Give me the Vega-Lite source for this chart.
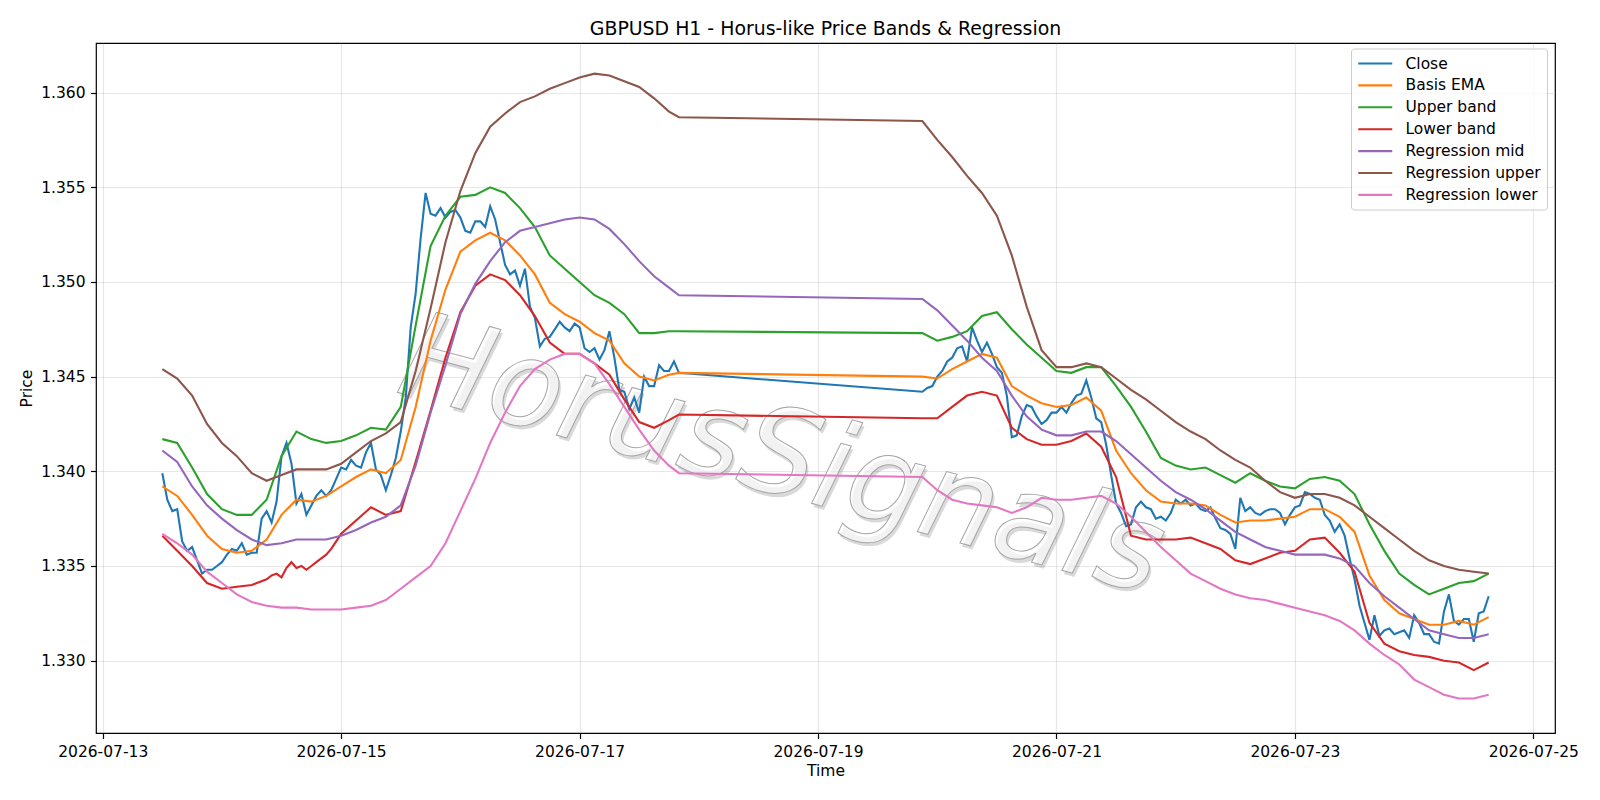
{
  "$schema": "https://vega.github.io/schema/vega-lite/v6.json",
  "width": 1459,
  "height": 690,
  "autosize": {"type": "none"},
  "padding": {"left": 96, "top": 43, "right": 45, "bottom": 67},
  "background": "white",
  "title": {
    "text": "GBPUSD H1 - Horus-like Price Bands & Regression",
    "fontSize": 18.9,
    "fontWeight": "normal",
    "color": "#000000",
    "anchor": "middle",
    "baseline": "alphabetic",
    "offset": -10.5
  },
  "config": {
    "font": "DejaVu Sans",
    "view": {"stroke": "#000000", "strokeWidth": 1.2},
    "axis": {
      "domain": false,
      "grid": true,
      "gridColor": "#b0b0b0",
      "gridOpacity": 0.3,
      "gridWidth": 1.2,
      "tickColor": "#000000",
      "tickWidth": 1.2,
      "tickSize": 5.5,
      "labelPadding": 5.5,
      "labelFontSize": 15.5,
      "labelColor": "#000000",
      "labelFont": "DejaVu Sans",
      "titleFont": "DejaVu Sans",
      "titleFontSize": 15.5,
      "titleFontWeight": "normal",
      "titleColor": "#000000"
    }
  },
  "encoding": {
    "x": {
      "field": "t",
      "type": "temporal",
      "scale": {
        "domain": [
          {"year": 2026, "month": 7, "date": 12, "hours": 22, "minutes": 39},
          {"year": 2026, "month": 7, "date": 25, "hours": 4, "minutes": 21}
        ]
      },
      "axis": {
        "title": "Time",
        "titlePadding": 4,
        "format": "%Y-%m-%d",
        "labelFlush": false,
        "labelOverlap": false,
        "values": [
          {"year": 2026, "month": 7, "date": 13},
          {"year": 2026, "month": 7, "date": 15},
          {"year": 2026, "month": 7, "date": 17},
          {"year": 2026, "month": 7, "date": 19},
          {"year": 2026, "month": 7, "date": 21},
          {"year": 2026, "month": 7, "date": 23},
          {"year": 2026, "month": 7, "date": 25}
        ]
      }
    },
    "y": {
      "field": "v",
      "type": "quantitative",
      "scale": {"domain": [1.32618, 1.36262], "zero": false, "nice": false},
      "axis": {
        "title": "Price",
        "titlePadding": 6,
        "format": ".3f",
        "labelFlush": false,
        "values": [1.330, 1.335, 1.340, 1.345, 1.350, 1.355, 1.360]
      }
    }
  },
  "layer": [
    {
      "data": {"values": [{"t": "2026-07-18T16:40", "v": 1.3407, "w": "HorusSignals"}]},
      "mark": {
        "type": "text",
        "font": "DejaVu Sans",
        "fontStyle": "italic",
        "fontSize": 120,
        "angle": 15,
        "align": "center",
        "baseline": "middle",
        "fill": "#000000",
        "fillOpacity": 0.15,
        "dx": 3,
        "dy": 3
      },
      "encoding": {"text": {"field": "w"}}
    },
    {
      "data": {"values": [{"t": "2026-07-18T16:40", "v": 1.3407, "w": "HorusSignals"}]},
      "mark": {
        "type": "text",
        "font": "DejaVu Sans",
        "fontStyle": "italic",
        "fontSize": 120,
        "angle": 15,
        "align": "center",
        "baseline": "middle",
        "fill": "#ffffff",
        "fillOpacity": 0.65,
        "stroke": "#a6a6a6",
        "strokeWidth": 1
      },
      "encoding": {"text": {"field": "w"}}
    },
    {
      "data": {
        "values": [
          {"t": "2026-07-13T12:00", "c": 1.3399, "e": 1.3392, "u": 1.3417, "l": 1.3366, "m": 1.3411, "ru": 1.3454, "rl": 1.3367},
          {"t": "2026-07-13T13:00", "c": 1.3385},
          {"t": "2026-07-13T14:00", "c": 1.3379},
          {"t": "2026-07-13T15:00", "c": 1.3380, "e": 1.3387, "u": 1.3415, "l": 1.3358, "m": 1.3405, "ru": 1.3449, "rl": 1.3362},
          {"t": "2026-07-13T16:00", "c": 1.3363},
          {"t": "2026-07-13T17:00", "c": 1.3358},
          {"t": "2026-07-13T18:00", "c": 1.3360, "e": 1.3377, "u": 1.3402, "l": 1.3350, "m": 1.3392, "ru": 1.3440, "rl": 1.3356},
          {"t": "2026-07-13T19:00", "c": 1.3353},
          {"t": "2026-07-13T20:00", "c": 1.3346},
          {"t": "2026-07-13T21:00", "c": 1.3348, "e": 1.3366, "u": 1.3388, "l": 1.3341, "m": 1.3382, "ru": 1.3425, "rl": 1.3347},
          {"t": "2026-07-13T22:00", "c": 1.3348},
          {"t": "2026-07-13T23:00", "c": 1.3350},
          {"t": "2026-07-14T00:00", "c": 1.3352, "e": 1.3359, "u": 1.3380, "l": 1.3338, "m": 1.3375, "ru": 1.3415, "rl": 1.3341},
          {"t": "2026-07-14T01:00", "c": 1.3356},
          {"t": "2026-07-14T02:00", "c": 1.3359},
          {"t": "2026-07-14T03:00", "c": 1.3358, "e": 1.3357, "u": 1.3377, "l": 1.3339, "m": 1.3369, "ru": 1.3408, "rl": 1.3335},
          {"t": "2026-07-14T04:00", "c": 1.3362},
          {"t": "2026-07-14T05:00", "c": 1.3356},
          {"t": "2026-07-14T06:00", "c": 1.3357, "e": 1.3358, "u": 1.3377, "l": 1.3340, "m": 1.3364, "ru": 1.3399, "rl": 1.3331},
          {"t": "2026-07-14T07:00", "c": 1.3357},
          {"t": "2026-07-14T08:00", "c": 1.3375},
          {"t": "2026-07-14T09:00", "c": 1.3379, "e": 1.3364, "u": 1.3385, "l": 1.3343, "m": 1.3361, "ru": 1.3395, "rl": 1.3329},
          {"t": "2026-07-14T10:00", "c": 1.3373, "l": 1.3345},
          {"t": "2026-07-14T11:00", "c": 1.3384, "l": 1.3346},
          {"t": "2026-07-14T12:00", "c": 1.3408, "e": 1.3377, "u": 1.3408, "l": 1.3344, "m": 1.3362, "ru": 1.3398, "rl": 1.3328},
          {"t": "2026-07-14T13:00", "c": 1.3415, "l": 1.3349},
          {"t": "2026-07-14T14:00", "c": 1.3404, "l": 1.3352},
          {"t": "2026-07-14T15:00", "c": 1.3383, "e": 1.3385, "u": 1.3421, "l": 1.3349, "m": 1.3364, "ru": 1.3401, "rl": 1.3328},
          {"t": "2026-07-14T16:00", "c": 1.3388, "l": 1.3350},
          {"t": "2026-07-14T17:00", "c": 1.3377, "l": 1.3348},
          {"t": "2026-07-14T18:00", "c": 1.3382, "e": 1.3384, "u": 1.3417, "l": 1.3350, "m": 1.3364, "ru": 1.3401, "rl": 1.3327},
          {"t": "2026-07-14T19:00", "c": 1.3387, "l": 1.3352},
          {"t": "2026-07-14T20:00", "c": 1.3390, "l": 1.3354},
          {"t": "2026-07-14T21:00", "c": 1.3387, "e": 1.3387, "u": 1.3415, "l": 1.3356, "m": 1.3364, "ru": 1.3401, "rl": 1.3327},
          {"t": "2026-07-14T22:00", "c": 1.3390, "l": 1.3359},
          {"t": "2026-07-14T23:00", "c": 1.3396, "l": 1.3363},
          {"t": "2026-07-15T00:00", "c": 1.3402, "e": 1.3392, "u": 1.3416, "l": 1.3367, "m": 1.3366, "ru": 1.3404, "rl": 1.3327},
          {"t": "2026-07-15T01:00", "c": 1.3401},
          {"t": "2026-07-15T02:00", "c": 1.3406},
          {"t": "2026-07-15T03:00", "c": 1.3403, "e": 1.3397, "u": 1.3419, "l": 1.3374, "m": 1.3369, "ru": 1.3410, "rl": 1.3328},
          {"t": "2026-07-15T04:00", "c": 1.3402},
          {"t": "2026-07-15T05:00", "c": 1.3410},
          {"t": "2026-07-15T06:00", "c": 1.3415, "e": 1.3401, "u": 1.3423, "l": 1.3381, "m": 1.3373, "ru": 1.3416, "rl": 1.3329},
          {"t": "2026-07-15T07:00", "c": 1.3401},
          {"t": "2026-07-15T08:00", "c": 1.3398},
          {"t": "2026-07-15T09:00", "c": 1.3390, "e": 1.3399, "u": 1.3422, "l": 1.3377, "m": 1.3376, "ru": 1.3420, "rl": 1.3332},
          {"t": "2026-07-15T10:00", "c": 1.3398},
          {"t": "2026-07-15T11:00", "c": 1.3407},
          {"t": "2026-07-15T12:00", "c": 1.3421, "e": 1.3406, "u": 1.3434, "l": 1.3379, "m": 1.3382, "ru": 1.3426, "rl": 1.3338},
          {"t": "2026-07-15T13:00", "c": 1.3439},
          {"t": "2026-07-15T14:00", "c": 1.3476},
          {"t": "2026-07-15T15:00", "c": 1.3494, "e": 1.3434, "u": 1.3477, "l": 1.3405, "m": 1.3403, "ru": 1.3453, "rl": 1.3344},
          {"t": "2026-07-15T16:00", "c": 1.3523},
          {"t": "2026-07-15T17:00", "c": 1.3547},
          {"t": "2026-07-15T18:00", "c": 1.3536, "e": 1.3469, "u": 1.3519, "l": 1.3432, "m": 1.3431, "ru": 1.3486, "rl": 1.3350},
          {"t": "2026-07-15T19:00", "c": 1.3535},
          {"t": "2026-07-15T20:00", "c": 1.3539},
          {"t": "2026-07-15T21:00", "c": 1.3534, "e": 1.3496, "u": 1.3535, "l": 1.3460, "m": 1.3456, "ru": 1.3521, "rl": 1.3362},
          {"t": "2026-07-15T22:00", "c": 1.3537},
          {"t": "2026-07-15T23:00", "c": 1.3538},
          {"t": "2026-07-16T00:00", "c": 1.3534, "e": 1.3516, "u": 1.3545, "l": 1.3484, "m": 1.3483, "ru": 1.3548, "rl": 1.3379},
          {"t": "2026-07-16T01:00", "c": 1.3527},
          {"t": "2026-07-16T02:00", "c": 1.3526},
          {"t": "2026-07-16T03:00", "c": 1.3532, "e": 1.3522, "u": 1.3546, "l": 1.3498, "m": 1.3499, "ru": 1.3568, "rl": 1.3396},
          {"t": "2026-07-16T04:00", "c": 1.3532},
          {"t": "2026-07-16T05:00", "c": 1.3529},
          {"t": "2026-07-16T06:00", "c": 1.3540, "e": 1.3526, "u": 1.3550, "l": 1.3504, "m": 1.3511, "ru": 1.3582, "rl": 1.3415},
          {"t": "2026-07-16T07:00", "c": 1.3533},
          {"t": "2026-07-16T08:00", "c": 1.3521},
          {"t": "2026-07-16T09:00", "c": 1.3509, "e": 1.3522, "u": 1.3547, "l": 1.3501, "m": 1.3521, "ru": 1.3589, "rl": 1.3431},
          {"t": "2026-07-16T10:00", "c": 1.3504},
          {"t": "2026-07-16T11:00", "c": 1.3506},
          {"t": "2026-07-16T12:00", "c": 1.3498, "e": 1.3514, "u": 1.3539, "l": 1.3493, "m": 1.3527, "ru": 1.3595, "rl": 1.3445},
          {"t": "2026-07-16T13:00", "c": 1.3507},
          {"t": "2026-07-16T14:00", "c": 1.3487},
          {"t": "2026-07-16T15:00", "c": 1.3481, "e": 1.3504, "u": 1.3529, "l": 1.3482, "m": 1.3529, "ru": 1.3598, "rl": 1.3454},
          {"t": "2026-07-16T16:00", "c": 1.3466},
          {"t": "2026-07-16T17:00", "c": 1.3470},
          {"t": "2026-07-16T18:00", "c": 1.3471, "e": 1.3489, "u": 1.3514, "l": 1.3468, "m": 1.3531, "ru": 1.3602, "rl": 1.3459},
          {"t": "2026-07-16T19:00", "c": 1.3475},
          {"t": "2026-07-16T20:00", "c": 1.3479},
          {"t": "2026-07-16T21:00", "c": 1.3476, "e": 1.3483, "u": 1.3507, "l": 1.3462, "m": 1.3533, "ru": 1.3605, "rl": 1.3462},
          {"t": "2026-07-16T22:00", "c": 1.3474},
          {"t": "2026-07-16T23:00", "c": 1.3478},
          {"t": "2026-07-17T00:00", "c": 1.3476, "e": 1.3479, "u": 1.3500, "l": 1.3462, "m": 1.3534, "ru": 1.3608, "rl": 1.3462},
          {"t": "2026-07-17T01:00", "c": 1.3465},
          {"t": "2026-07-17T02:00", "c": 1.3463},
          {"t": "2026-07-17T03:00", "c": 1.3465, "e": 1.3473, "u": 1.3493, "l": 1.3457, "m": 1.3533, "ru": 1.3610, "rl": 1.3457},
          {"t": "2026-07-17T04:00", "c": 1.3459},
          {"t": "2026-07-17T05:00", "c": 1.3464},
          {"t": "2026-07-17T06:00", "c": 1.3474, "e": 1.3469, "u": 1.3489, "l": 1.3451, "m": 1.3528, "ru": 1.3609, "rl": 1.3446},
          {"t": "2026-07-17T07:00", "c": 1.3460},
          {"t": "2026-07-17T08:00", "c": 1.3443},
          {"t": "2026-07-17T09:00", "c": 1.3442, "e": 1.3457, "u": 1.3483, "l": 1.3438, "m": 1.3520, "ru": 1.3606, "rl": 1.3434},
          {"t": "2026-07-17T10:00", "c": 1.3433},
          {"t": "2026-07-17T11:00", "c": 1.3439},
          {"t": "2026-07-17T12:00", "c": 1.3431, "e": 1.3450, "u": 1.3473, "l": 1.3426, "m": 1.3511, "ru": 1.3603, "rl": 1.3422},
          {"t": "2026-07-17T13:00", "c": 1.3450},
          {"t": "2026-07-17T14:00", "c": 1.3445},
          {"t": "2026-07-17T15:00", "c": 1.3445, "e": 1.3448, "u": 1.3473, "l": 1.3423, "m": 1.3503, "ru": 1.3597, "rl": 1.3411},
          {"t": "2026-07-17T16:00", "c": 1.3456},
          {"t": "2026-07-17T17:00", "c": 1.3453},
          {"t": "2026-07-17T18:00", "c": 1.3453, "e": 1.3451, "u": 1.3474, "l": 1.3427, "m": 1.3497, "ru": 1.3590, "rl": 1.3403},
          {"t": "2026-07-17T19:00", "c": 1.3458},
          {"t": "2026-07-17T20:00", "c": 1.3452, "e": 1.3452, "u": 1.3474, "l": 1.3430, "m": 1.3493, "ru": 1.3587, "rl": 1.3399},
          {"t": "2026-07-19T21:00", "c": 1.3442, "e": 1.3450, "u": 1.3473, "l": 1.3428, "m": 1.3491, "ru": 1.3585, "rl": 1.3397},
          {"t": "2026-07-19T22:00", "c": 1.3444},
          {"t": "2026-07-19T23:00", "c": 1.3445},
          {"t": "2026-07-20T00:00", "c": 1.3450, "e": 1.3449, "u": 1.3469, "l": 1.3428, "m": 1.3485, "ru": 1.3575, "rl": 1.3390},
          {"t": "2026-07-20T01:00", "c": 1.3453},
          {"t": "2026-07-20T02:00", "c": 1.3458},
          {"t": "2026-07-20T03:00", "c": 1.3460, "e": 1.3454, "u": 1.3471, "l": 1.3434, "m": 1.3477, "ru": 1.3566, "rl": 1.3385},
          {"t": "2026-07-20T04:00", "c": 1.3465},
          {"t": "2026-07-20T05:00", "c": 1.3466},
          {"t": "2026-07-20T06:00", "c": 1.3458, "e": 1.3458, "u": 1.3474, "l": 1.3440, "m": 1.3469, "ru": 1.3556, "rl": 1.3383},
          {"t": "2026-07-20T07:00", "c": 1.3476},
          {"t": "2026-07-20T08:00", "c": 1.3469},
          {"t": "2026-07-20T09:00", "c": 1.3463, "e": 1.3462, "u": 1.3482, "l": 1.3442, "m": 1.3460, "ru": 1.3547, "rl": 1.3382},
          {"t": "2026-07-20T10:00", "c": 1.3468},
          {"t": "2026-07-20T11:00", "c": 1.3462},
          {"t": "2026-07-20T12:00", "c": 1.3455, "e": 1.3460, "u": 1.3484, "l": 1.3440, "m": 1.3453, "ru": 1.3535, "rl": 1.3381},
          {"t": "2026-07-20T13:00", "c": 1.3452},
          {"t": "2026-07-20T14:00", "c": 1.3440},
          {"t": "2026-07-20T15:00", "c": 1.3418, "e": 1.3445, "u": 1.3475, "l": 1.3423, "m": 1.3440, "ru": 1.3514, "rl": 1.3378},
          {"t": "2026-07-20T16:00", "c": 1.3419},
          {"t": "2026-07-20T17:00", "c": 1.3429},
          {"t": "2026-07-20T18:00", "c": 1.3435, "e": 1.3440, "u": 1.3467, "l": 1.3417, "m": 1.3429, "ru": 1.3487, "rl": 1.3381},
          {"t": "2026-07-20T19:00", "c": 1.3434},
          {"t": "2026-07-20T20:00", "c": 1.3429},
          {"t": "2026-07-20T21:00", "c": 1.3425, "e": 1.3436, "u": 1.3460, "l": 1.3414, "m": 1.3422, "ru": 1.3464, "rl": 1.3386},
          {"t": "2026-07-20T22:00", "c": 1.3427},
          {"t": "2026-07-20T23:00", "c": 1.3431},
          {"t": "2026-07-21T00:00", "c": 1.3431, "e": 1.3434, "u": 1.3453, "l": 1.3414, "m": 1.3419, "ru": 1.3455, "rl": 1.3385},
          {"t": "2026-07-21T01:00", "c": 1.3434},
          {"t": "2026-07-21T02:00", "c": 1.3431},
          {"t": "2026-07-21T03:00", "c": 1.3436, "e": 1.3435, "u": 1.3452, "l": 1.3416, "m": 1.3419, "ru": 1.3455, "rl": 1.3385},
          {"t": "2026-07-21T04:00", "c": 1.3440},
          {"t": "2026-07-21T05:00", "c": 1.3441},
          {"t": "2026-07-21T06:00", "c": 1.3448, "e": 1.3439, "u": 1.3455, "l": 1.3420, "m": 1.3421, "ru": 1.3457, "rl": 1.3386},
          {"t": "2026-07-21T07:00", "c": 1.3439},
          {"t": "2026-07-21T08:00", "c": 1.3428},
          {"t": "2026-07-21T09:00", "c": 1.3426, "e": 1.3432, "u": 1.3455, "l": 1.3413, "m": 1.3421, "ru": 1.3455, "rl": 1.3387},
          {"t": "2026-07-21T10:00", "c": 1.3414},
          {"t": "2026-07-21T11:00", "c": 1.3398},
          {"t": "2026-07-21T12:00", "c": 1.3383, "e": 1.3411, "u": 1.3445, "l": 1.3397, "m": 1.3416, "ru": 1.3449, "rl": 1.3383},
          {"t": "2026-07-21T13:00", "c": 1.3378},
          {"t": "2026-07-21T14:00", "c": 1.3371},
          {"t": "2026-07-21T15:00", "c": 1.3372, "e": 1.3399, "u": 1.3434, "l": 1.3366, "m": 1.3409, "ru": 1.3443, "rl": 1.3376},
          {"t": "2026-07-21T16:00", "c": 1.3381},
          {"t": "2026-07-21T17:00", "c": 1.3384},
          {"t": "2026-07-21T18:00", "c": 1.3381, "e": 1.3390, "u": 1.3421, "l": 1.3364, "m": 1.3402, "ru": 1.3438, "rl": 1.3368},
          {"t": "2026-07-21T19:00", "c": 1.3380},
          {"t": "2026-07-21T20:00", "c": 1.3375},
          {"t": "2026-07-21T21:00", "c": 1.3376, "e": 1.3384, "u": 1.3407, "l": 1.3364, "m": 1.3395, "ru": 1.3432, "rl": 1.3360},
          {"t": "2026-07-21T22:00", "c": 1.3374},
          {"t": "2026-07-21T23:00", "c": 1.3378},
          {"t": "2026-07-22T00:00", "c": 1.3385, "e": 1.3383, "u": 1.3403, "l": 1.3364, "m": 1.3389, "ru": 1.3426, "rl": 1.3353},
          {"t": "2026-07-22T01:00", "c": 1.3383},
          {"t": "2026-07-22T02:00", "c": 1.3385},
          {"t": "2026-07-22T03:00", "c": 1.3382, "e": 1.3383, "u": 1.3401, "l": 1.3365, "m": 1.3385, "ru": 1.3421, "rl": 1.3346},
          {"t": "2026-07-22T04:00", "c": 1.3383},
          {"t": "2026-07-22T05:00", "c": 1.3380},
          {"t": "2026-07-22T06:00", "c": 1.3379, "e": 1.3382, "u": 1.3402, "l": 1.3362, "m": 1.3380, "ru": 1.3417, "rl": 1.3342},
          {"t": "2026-07-22T07:00", "c": 1.3381},
          {"t": "2026-07-22T08:00", "c": 1.3375},
          {"t": "2026-07-22T09:00", "c": 1.3370, "e": 1.3377, "u": 1.3398, "l": 1.3359, "m": 1.3374, "ru": 1.3411, "rl": 1.3338},
          {"t": "2026-07-22T10:00", "c": 1.3369},
          {"t": "2026-07-22T11:00", "c": 1.3367},
          {"t": "2026-07-22T12:00", "c": 1.3359, "e": 1.3373, "u": 1.3394, "l": 1.3353, "m": 1.3368, "ru": 1.3406, "rl": 1.3335},
          {"t": "2026-07-22T13:00", "c": 1.3386},
          {"t": "2026-07-22T14:00", "c": 1.3379},
          {"t": "2026-07-22T15:00", "c": 1.3381, "e": 1.3374, "u": 1.3399, "l": 1.3351, "m": 1.3364, "ru": 1.3402, "rl": 1.3333},
          {"t": "2026-07-22T16:00", "c": 1.3378},
          {"t": "2026-07-22T17:00", "c": 1.3377},
          {"t": "2026-07-22T18:00", "c": 1.3379, "e": 1.3374, "u": 1.3395, "l": 1.3354, "m": 1.3360, "ru": 1.3395, "rl": 1.3332},
          {"t": "2026-07-22T19:00", "c": 1.3380},
          {"t": "2026-07-22T20:00", "c": 1.3380},
          {"t": "2026-07-22T21:00", "c": 1.3378, "e": 1.3375, "u": 1.3392, "l": 1.3357, "m": 1.3358, "ru": 1.3389, "rl": 1.3330},
          {"t": "2026-07-22T22:00", "c": 1.3372},
          {"t": "2026-07-22T23:00", "c": 1.3377},
          {"t": "2026-07-23T00:00", "c": 1.3381, "e": 1.3376, "u": 1.3391, "l": 1.3358, "m": 1.3356, "ru": 1.3386, "rl": 1.3328},
          {"t": "2026-07-23T01:00", "c": 1.3382},
          {"t": "2026-07-23T02:00", "c": 1.3389},
          {"t": "2026-07-23T03:00", "c": 1.3388, "e": 1.3380, "u": 1.3396, "l": 1.3364, "m": 1.3356, "ru": 1.3388, "rl": 1.3326},
          {"t": "2026-07-23T04:00", "c": 1.3386},
          {"t": "2026-07-23T05:00", "c": 1.3385},
          {"t": "2026-07-23T06:00", "c": 1.3377, "e": 1.3380, "u": 1.3397, "l": 1.3365, "m": 1.3356, "ru": 1.3388, "rl": 1.3324},
          {"t": "2026-07-23T07:00", "c": 1.3374},
          {"t": "2026-07-23T08:00", "c": 1.3368},
          {"t": "2026-07-23T09:00", "c": 1.3372, "e": 1.3376, "u": 1.3395, "l": 1.3357, "m": 1.3354, "ru": 1.3386, "rl": 1.3321},
          {"t": "2026-07-23T10:00", "c": 1.3366},
          {"t": "2026-07-23T11:00", "c": 1.3354},
          {"t": "2026-07-23T12:00", "c": 1.3343, "e": 1.3368, "u": 1.3388, "l": 1.3347, "m": 1.3350, "ru": 1.3382, "rl": 1.3316},
          {"t": "2026-07-23T13:00", "c": 1.3329},
          {"t": "2026-07-23T14:00", "c": 1.3320},
          {"t": "2026-07-23T15:00", "c": 1.3311, "e": 1.3345, "u": 1.3372, "l": 1.3320, "m": 1.3341, "ru": 1.3376, "rl": 1.3309},
          {"t": "2026-07-23T16:00", "c": 1.3324},
          {"t": "2026-07-23T17:00", "c": 1.3313},
          {"t": "2026-07-23T18:00", "c": 1.3316, "e": 1.3332, "u": 1.3358, "l": 1.3309, "m": 1.3334, "ru": 1.3370, "rl": 1.3303},
          {"t": "2026-07-23T19:00", "c": 1.3317},
          {"t": "2026-07-23T20:00", "c": 1.3314},
          {"t": "2026-07-23T21:00", "c": 1.3315, "e": 1.3325, "u": 1.3346, "l": 1.3305, "m": 1.3328, "ru": 1.3364, "rl": 1.3298},
          {"t": "2026-07-23T22:00", "c": 1.3316},
          {"t": "2026-07-23T23:00", "c": 1.3312},
          {"t": "2026-07-24T00:00", "c": 1.3324, "e": 1.3322, "u": 1.3340, "l": 1.3303, "m": 1.3322, "ru": 1.3358, "rl": 1.3290},
          {"t": "2026-07-24T01:00", "c": 1.3320},
          {"t": "2026-07-24T02:00", "c": 1.3314},
          {"t": "2026-07-24T03:00", "c": 1.3314, "e": 1.3319, "u": 1.3335, "l": 1.3302, "m": 1.3316, "ru": 1.3353, "rl": 1.3286},
          {"t": "2026-07-24T04:00", "c": 1.3310},
          {"t": "2026-07-24T05:00", "c": 1.3309},
          {"t": "2026-07-24T06:00", "c": 1.3326, "e": 1.3319, "u": 1.3338, "l": 1.3300, "m": 1.3314, "ru": 1.3350, "rl": 1.3282},
          {"t": "2026-07-24T07:00", "c": 1.3335},
          {"t": "2026-07-24T08:00", "c": 1.3321},
          {"t": "2026-07-24T09:00", "c": 1.3319, "e": 1.3321, "u": 1.3341, "l": 1.3299, "m": 1.3312, "ru": 1.3348, "rl": 1.3280},
          {"t": "2026-07-24T10:00", "c": 1.3322},
          {"t": "2026-07-24T11:00", "c": 1.3322},
          {"t": "2026-07-24T12:00", "c": 1.3310, "e": 1.3319, "u": 1.3342, "l": 1.3295, "m": 1.3312, "ru": 1.3347, "rl": 1.3280},
          {"t": "2026-07-24T13:00", "c": 1.3325},
          {"t": "2026-07-24T14:00", "c": 1.3326},
          {"t": "2026-07-24T15:00", "c": 1.3334, "e": 1.3323, "u": 1.3346, "l": 1.3299, "m": 1.3314, "ru": 1.3346, "rl": 1.3282}
        ]
      },
      "transform": [
        {"fold": ["c", "e", "u", "l", "m", "ru", "rl"], "as": ["s", "v"]},
        {"filter": "isValid(datum.v)"}
      ],
      "mark": {"type": "line", "strokeWidth": 2.1},
      "encoding": {
        "color": {
          "field": "s",
          "type": "nominal",
          "scale": {
            "domain": ["c", "e", "u", "l", "m", "ru", "rl"],
            "range": ["#1f77b4", "#ff7f0e", "#2ca02c", "#d62728", "#9467bd", "#8c564b", "#e377c2"]
          },
          "legend": {
            "title": null,
            "orient": "none",
            "legendX": 1255,
            "legendY": 5.5,
            "direction": "vertical",
            "symbolType": "M-1,0L3.39,0",
            "symbolSize": 240,
            "symbolStrokeWidth": 2.1,
            "labelFontSize": 15.5,
            "labelColor": "#000000",
            "labelOffset": 30.5,
            "rowPadding": 3.9,
            "padding": 6,
            "fillColor": "rgba(255,255,255,0.8)",
            "strokeColor": "#cccccc",
            "cornerRadius": 3,
            "labelExpr": "{'c': 'Close', 'e': 'Basis EMA', 'u': 'Upper band', 'l': 'Lower band', 'm': 'Regression mid', 'ru': 'Regression upper', 'rl': 'Regression lower'}[datum.label]"
          }
        }
      }
    }
  ]
}
